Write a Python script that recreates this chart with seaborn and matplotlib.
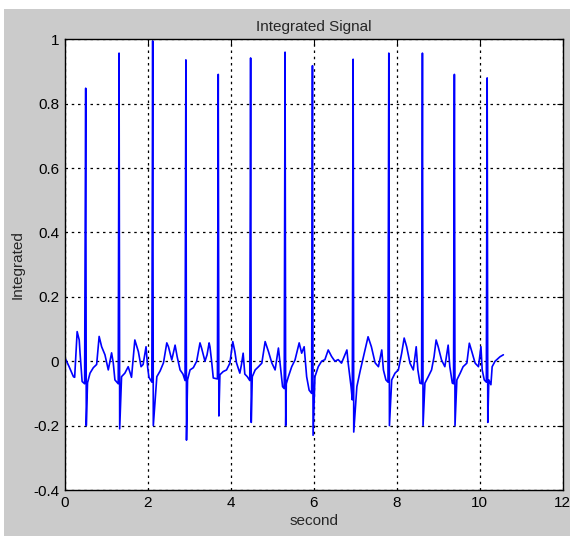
import matplotlib
matplotlib.use("Agg")
import matplotlib.pyplot as plt
from matplotlib.patches import Rectangle
import seaborn as sns
import pandas as pd

# Integrated ECG trace: sample times (s) and amplitudes, one row per beat
seconds = [
    0.00, 0.10, 0.21, 0.24, 0.30, 0.35, 0.37, 0.40, 0.42, 0.48, 0.506, 0.52,
    0.55, 0.61, 0.69, 0.77, 0.83, 0.89, 0.97, 1.05, 1.13, 1.17, 1.21, 1.29, 1.31, 1.325,
    1.37, 1.45, 1.53, 1.61, 1.69, 1.775, 1.84, 1.89, 1.96, 2.00, 2.03, 2.10, 2.12, 2.135,
    2.22, 2.30, 2.38, 2.46, 2.50, 2.58, 2.66, 2.71, 2.78, 2.85, 2.90, 2.92, 2.935,
    2.96, 3.02, 3.10, 3.18, 3.26, 3.30, 3.38, 3.43, 3.48, 3.50, 3.54, 3.58, 3.68, 3.70, 3.715,
    3.74, 3.82, 3.90, 3.98, 4.05, 4.10, 4.14, 4.22, 4.26, 4.30, 4.34, 4.40, 4.46, 4.48, 4.495,
    4.52, 4.59, 4.67, 4.75, 4.83, 4.91, 4.99, 5.07, 5.15, 5.19, 5.25, 5.29, 5.31, 5.325,
    5.34, 5.39, 5.47, 5.55, 5.65, 5.71, 5.77, 5.83, 5.89, 5.95, 5.97, 5.985,
    6.03, 6.11, 6.19, 6.27, 6.35, 6.43, 6.51, 6.59, 6.67, 6.80, 6.83, 6.90, 6.93, 6.95, 6.965,
    7.04, 7.12, 7.20, 7.31, 7.39, 7.48, 7.56, 7.64, 7.68, 7.74, 7.79, 7.81, 7.825,
    7.88, 7.96, 8.04, 8.12, 8.18, 8.24, 8.32, 8.40, 8.47, 8.51, 8.56, 8.60, 8.62, 8.635,
    8.68, 8.76, 8.84, 8.90, 8.95, 9.00, 9.08, 9.16, 9.24, 9.28, 9.34, 9.37, 9.39, 9.405,
    9.45, 9.53, 9.60, 9.69, 9.75, 9.81, 9.89, 9.97, 10.03, 10.06, 10.11, 10.16, 10.18, 10.195,
    10.22, 10.27, 10.30, 10.37, 10.49, 10.57,
]
integrated = [
    0.012, -0.015, -0.048, -0.050, 0.092, 0.066, 0.025, -0.027, -0.063, -0.070, 0.848, -0.200,
    -0.067, -0.037, -0.020, -0.010, 0.077, 0.045, 0.020, -0.027, 0.026, -0.005, -0.058, -0.070, 0.957, -0.210,
    -0.048, -0.037, -0.017, -0.050, 0.066, 0.030, -0.017, -0.010, 0.045, -0.020, -0.050, -0.065, 0.995, -0.200,
    -0.048, -0.030, -0.005, 0.057, 0.045, 0.004, 0.050, 0.014, -0.027, -0.040, -0.060, 0.936, -0.245,
    -0.058, -0.027, -0.020, 0.000, 0.057, 0.040, 0.000, 0.020, 0.057, 0.045, 0.000, -0.052, -0.055, 0.891, -0.170,
    -0.042, -0.032, -0.027, -0.006, 0.061, 0.030, -0.005, -0.037, -0.010, 0.025, -0.040, -0.048, -0.060, 0.942, -0.190,
    -0.048, -0.027, -0.017, -0.006, 0.061, 0.030, -0.005, -0.027, 0.041, -0.006, -0.079, -0.085, 0.960, -0.200,
    -0.070, -0.048, -0.017, 0.004, 0.057, 0.025, 0.045, -0.048, -0.090, -0.100, 0.918, -0.230,
    -0.048, -0.017, 0.000, 0.005, 0.035, 0.015, 0.000, 0.005, -0.006, 0.035, -0.005, -0.079, -0.120, 0.938, -0.220,
    -0.079, -0.030, 0.014, 0.076, 0.045, -0.005, -0.017, 0.035, -0.027, -0.058, -0.065, 0.957, -0.200,
    -0.058, -0.037, -0.027, 0.025, 0.072, 0.045, -0.006, -0.027, 0.045, -0.027, -0.068, -0.070, 0.957, -0.200,
    -0.068, -0.048, -0.027, 0.014, 0.066, 0.045, 0.004, -0.017, 0.050, -0.017, -0.068, -0.070, 0.891, -0.200,
    -0.058, -0.037, -0.017, -0.006, 0.056, 0.030, -0.006, -0.017, 0.045, -0.027, -0.058, -0.065, 0.880, -0.190,
    -0.058, -0.073, -0.017, 0.000, 0.014, 0.020,
]

x_ticks = [0, 2, 4, 6, 8, 10, 12]
y_ticks = [-0.4, -0.2, 0, 0.2, 0.4, 0.6, 0.8, 1]
y_tick_labels = ["-0.4", "-0.2", "0", "0.2", "0.4", "0.6", "0.8", "1"]

sns.set_style("white")
plt.rcParams["font.family"] = ["Liberation Sans", "DejaVu Sans"]

fig = plt.figure(figsize=(5.77, 5.36), dpi=100, facecolor="white")
# grey window panel behind the axes
fig.patches.append(Rectangle((4 / 577, 0), 566 / 577, 527 / 536,
                             transform=fig.transFigure, facecolor="#cbcbcb",
                             edgecolor="none", zorder=-10))
ax = fig.add_axes([64.7 / 577, 1 - 490 / 536, 498 / 577, (490 - 39.3) / 536])
ax.set_facecolor("white")

df = pd.DataFrame({"second": seconds, "Integrated": integrated})
sns.lineplot(data=df, x="second", y="Integrated", ax=ax, color="#0000ff",
             linewidth=1.2, estimator=None, sort=False)

ax.set_xlim(0, 12)
ax.set_ylim(-0.4, 1)
ax.set_xticks(x_ticks)
ax.set_yticks(y_ticks)
ax.set_yticklabels(y_tick_labels)
ax.grid(True, color="black", linestyle=(0, (2, 3)), linewidth=0.9)
ax.set_axisbelow(True)
ax.tick_params(direction="in", length=4, width=0.8, top=True, right=True,
               labelsize=11, colors="black", pad=4)
for s in ax.spines.values():
    s.set_visible(True)
    s.set_color("black")
    s.set_linewidth(1.0)

ax.set_title("Integrated Signal", fontsize=11, pad=6)
ax.set_xlabel("second", fontsize=11, labelpad=3)
ax.set_ylabel("Integrated", fontsize=11, labelpad=6)

fig.savefig("out.png", dpi=100, facecolor=fig.get_facecolor())
